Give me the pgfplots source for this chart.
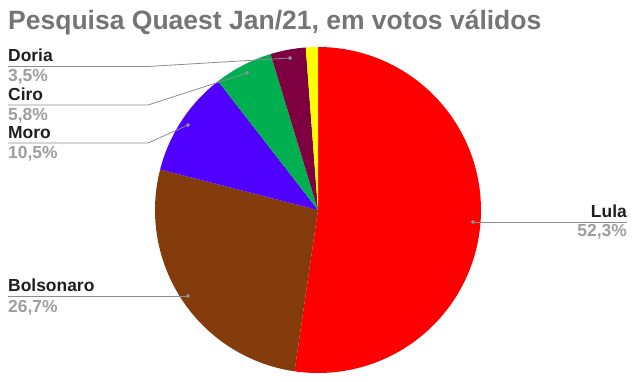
\documentclass[border=0pt]{standalone}
\usepackage{pgfplots}
\pgfplotsset{compat=1.18}
\usepackage{fontspec}
\setmainfont{Liberation Sans}
\definecolor{cLula}{HTML}{FF0000}
\definecolor{cBolso}{HTML}{843C0C}
\definecolor{cMoro}{HTML}{5000FF}
\definecolor{cCiro}{HTML}{00B050}
\definecolor{cDoria}{HTML}{7F0041}
\definecolor{cOutro}{HTML}{FFFF00}
\definecolor{titlec}{HTML}{757575}
\definecolor{labc}{HTML}{1F1F1F}
\definecolor{pctc}{HTML}{9E9E9E}
\definecolor{leadc}{HTML}{8C8C8C}
% vote shares (%)
\def\vLula{52.3}
\def\vBolso{26.7}
\def\vMoro{10.5}
\def\vCiro{5.8}
\def\vDoria{3.5}
\def\vOutro{1.2}
\begin{document}
\begin{tikzpicture}
\pgfmathsetmacro{\aA}{90}
\pgfmathsetmacro{\aB}{\aA-3.6*\vLula}
\pgfmathsetmacro{\aC}{\aB-3.6*\vBolso}
\pgfmathsetmacro{\aD}{\aC-3.6*\vMoro}
\pgfmathsetmacro{\aE}{\aD-3.6*\vCiro}
\pgfmathsetmacro{\aF}{\aE-3.6*\vDoria}
\pgfmathsetmacro{\aG}{\aF-3.6*\vOutro}
\begin{axis}[
  scale only axis, width=642bp, height=382bp,
  xmin=0, xmax=642, ymin=0, ymax=382, y dir=reverse,
  hide axis, clip=false,
]
\path (rel axis cs:0,0) rectangle (rel axis cs:1,1);
\addplot[fill=cLula, draw=none, domain=\aB:\aA, samples=120, variable=\t] ({318+163*cos(\t)}, {210-163*sin(\t)}) -- (axis cs:318,210) -- cycle;
\addplot[fill=cBolso, draw=none, domain=\aC:\aB, samples=80, variable=\t] ({318+163*cos(\t)}, {210-163*sin(\t)}) -- (axis cs:318,210) -- cycle;
\addplot[fill=cMoro, draw=none, domain=\aD:\aC, samples=40, variable=\t] ({318+163*cos(\t)}, {210-163*sin(\t)}) -- (axis cs:318,210) -- cycle;
\addplot[fill=cCiro, draw=none, domain=\aE:\aD, samples=25, variable=\t] ({318+163*cos(\t)}, {210-163*sin(\t)}) -- (axis cs:318,210) -- cycle;
\addplot[fill=cDoria, draw=none, domain=\aF:\aE, samples=15, variable=\t] ({318+163*cos(\t)}, {210-163*sin(\t)}) -- (axis cs:318,210) -- cycle;
\addplot[fill=cOutro, draw=none, domain=\aG:\aF, samples=8, variable=\t] ({318+163*cos(\t)}, {210-163*sin(\t)}) -- (axis cs:318,210) -- cycle;
% leader lines
\addplot[leadc, line width=0.8pt, mark=*, mark size=1.6pt, mark indices={1}, mark options={fill=leadc, draw=leadc}] coordinates {(473,222) (627,222)};
\addplot[leadc, line width=0.8pt, mark=*, mark size=1.6pt, mark indices={1}, mark options={fill=leadc, draw=leadc}] coordinates {(188,296) (8,296)};
\addplot[leadc, line width=0.8pt, mark=*, mark size=1.6pt, mark indices={1}, mark options={fill=leadc, draw=leadc}] coordinates {(188,125) (148,143) (8,143)};
\addplot[leadc, line width=0.8pt, mark=*, mark size=1.6pt, mark indices={1}, mark options={fill=leadc, draw=leadc}] coordinates {(247,73) (148,105) (8,105)};
\addplot[leadc, line width=0.8pt, mark=*, mark size=1.6pt, mark indices={1}, mark options={fill=leadc, draw=leadc}] coordinates {(290,58) (148,66.5) (8,66.5)};
% title
\node[anchor=base west, inner sep=0, text=titlec, font=\bfseries\fontsize{26.6}{30}\selectfont] at (axis cs:8,29.5) {Pesquisa Quaest Jan/21, em votos válidos};
% labels
\tikzset{lab/.style={inner sep=0, text=labc, font=\bfseries\fontsize{17.5}{20}\selectfont},
         pct/.style={inner sep=0, text=pctc, font=\bfseries\fontsize{17.5}{20}\selectfont}}
\node[lab, anchor=base east] at (axis cs:627,217.3) {Lula};
\node[pct, anchor=base east] at (axis cs:627,236.7) {52,3\%};
\node[lab, anchor=base west] at (axis cs:8,291.7) {Bolsonaro};
\node[pct, anchor=base west] at (axis cs:8,312) {26,7\%};
\node[lab, anchor=base west] at (axis cs:8,138) {Moro};
\node[pct, anchor=base west] at (axis cs:8,158) {10,5\%};
\node[lab, anchor=base west] at (axis cs:8,100) {Ciro};
\node[pct, anchor=base west] at (axis cs:8,120) {5,8\%};
\node[lab, anchor=base west] at (axis cs:8,61) {Doria};
\node[pct, anchor=base west] at (axis cs:8,81.5) {3,5\%};
\end{axis}
\end{tikzpicture}
\end{document}
